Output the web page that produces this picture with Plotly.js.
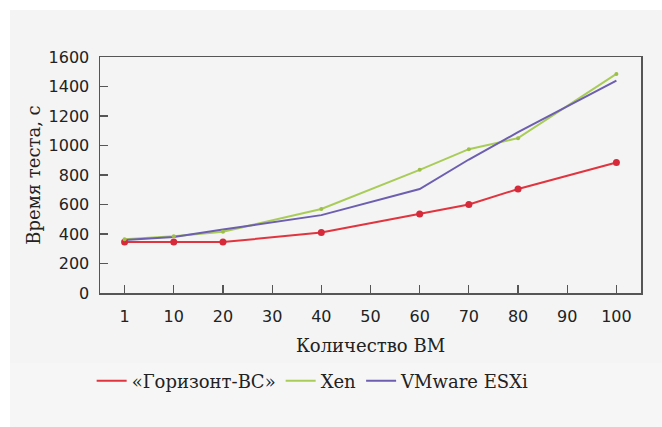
<!DOCTYPE html>
<html>
<head>
<meta charset="utf-8">
<script src="https://cdn.plot.ly/plotly-3.0.1.min.js"></script>
<style>
html,body{margin:0;padding:0;background:#ffffff;}
#chart{position:absolute;left:10px;top:10px;width:652px;height:417px;}
</style>
</head>
<body>
<div id="chart"></div>
<script>
const categories = ["1","10","20","30","40","50","60","70","80","90","100"];
const xPoints = ["1","10","20","40","60","70","80","100"];
const gorizont = [345, 345, 345, 410, 535, 600, 705, 885];
const xen = [365, 385, 415, 570, 835, 975, 1050, 1485];
const vmware = [360, 380, 430, 528, 705, 905, 1090, 1440];
const seriesNames = ["«Горизонт-ВС»", "Xen", "VMware ESXi"];

const traces = [
  {x: xPoints, y: gorizont, name: seriesNames[0], type: "scatter", mode: "lines",
   line: {color: "#e0343f", width: 2}},
  {x: xPoints, y: xen, name: seriesNames[1], type: "scatter", mode: "lines",
   line: {color: "#a9cc58", width: 2}},
  {x: xPoints, y: vmware, name: seriesNames[2], type: "scatter", mode: "lines",
   line: {color: "#6d5eb0", width: 2}},
  {x: xPoints, y: gorizont, name: seriesNames[0], type: "scatter", mode: "markers",
   showlegend: false, marker: {color: "#d62a3a", size: 7}},
  {x: xPoints, y: xen, name: seriesNames[1], type: "scatter", mode: "markers",
   showlegend: false, marker: {color: "#9cbf48", size: 4}}
];

const layout = {
  width: 652, height: 417,
  margin: {l: 90, r: 21, t: 47, b: 134},
  paper_bgcolor: "#f4f4f4",
  plot_bgcolor: "#f4f4f4",
  showlegend: true,
  legend: {orientation: "h", x: 0.394, xanchor: "center", y: -0.373, yanchor: "middle",
           font: {family: "DejaVu Serif", size: 18, color: "#222"}, bgcolor: "rgba(0,0,0,0)",
           itemwidth: 30, tracegroupgap: 0},
  xaxis: {
    type: "category", categoryorder: "array", categoryarray: categories,
    range: [-0.5, 10.5],
    showline: true, linecolor: "#555", linewidth: 1.5, mirror: true,
    ticks: "inside", ticklen: 8, tickcolor: "#555", tickwidth: 1.2,
    showgrid: false, zeroline: false,
    ticklabelstandoff: 8,
    tickfont: {family: "DejaVu Sans", size: 16, color: "#222"},
    title: {text: "Количество ВМ", standoff: 14, font: {family: "DejaVu Serif", size: 18, color: "#222"}}
  },
  yaxis: {
    range: [0, 1600], dtick: 200,
    showline: true, linecolor: "#555", linewidth: 1.5, mirror: true,
    ticks: "inside", ticklen: 8, tickcolor: "#555", tickwidth: 1.2,
    showgrid: false, zeroline: false,
    ticklabelstandoff: 6,
    tickfont: {family: "DejaVu Sans", size: 16, color: "#222"},
    title: {text: "Время теста, с", standoff: 3, font: {family: "DejaVu Serif", size: 18, color: "#222"}}
  },
  shapes: [
    {type: "rect", xref: "paper", yref: "paper", x0: -0.17, x1: 1.04, y0: -0.297, y1: -0.575,
     fillcolor: "#f6f6f6", line: {width: 0}, layer: "below"}
  ]
};

Plotly.newPlot("chart", traces, layout, {displayModeBar: false, staticPlot: true});
</script>
</body>
</html>
